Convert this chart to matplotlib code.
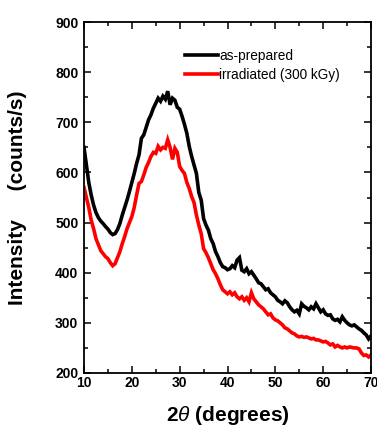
import matplotlib
matplotlib.use("Agg")
import matplotlib.pyplot as plt
from matplotlib.ticker import MultipleLocator
import numpy as np

two_theta = [10 + 0.5 * i for i in range(121)]

as_prepared = [
    650, 615, 580, 555, 535, 520, 510, 503, 498, 492,
    487, 480, 476, 478, 486, 498, 515, 530, 545, 562,
    580, 598, 618, 635, 668, 675, 690, 705, 715, 728,
    738, 748, 742, 752, 746, 762, 735, 748, 744, 730,
    726, 712, 696, 678, 652, 632, 615, 598, 560, 545,
    508, 495, 485, 468, 458, 442, 432, 420, 412, 410,
    406, 408, 414, 410, 425, 430, 405, 402, 408, 398,
    402, 395, 388, 380, 378, 372, 366, 368, 360, 356,
    352, 345, 342, 338, 344, 340, 332, 326, 322, 325,
    318, 338, 333, 330, 326, 332, 328, 338, 330, 322,
    326, 318, 315, 316, 308, 305, 307, 302, 312, 305,
    300, 296, 294, 296, 292, 288, 285, 280, 276, 268,
    274,
]

irradiated = [
    570, 550, 530, 505, 488, 468, 456, 444, 438, 432,
    428, 420, 414, 418, 430, 442, 458, 472, 488, 500,
    512, 530, 555, 578, 582, 595, 610, 620, 632, 640,
    638, 652, 645, 650, 648, 665, 650, 626, 648, 640,
    612, 604, 598, 580, 568, 552, 540, 515, 495, 478,
    448, 440, 430, 418, 406, 398, 388, 376, 366, 362,
    358, 362, 356, 360, 352, 348, 352, 345, 350, 342,
    360, 348, 342, 336, 332, 328, 322, 316, 318, 310,
    306, 304, 300, 296, 290, 288, 284, 280, 278, 274,
    272, 273, 271, 272, 270, 268, 269, 266, 266, 264,
    262, 263, 260, 256, 258, 252, 255, 252, 250, 252,
    250, 252, 251, 250, 250, 248, 240, 235, 236, 232,
    236,
]

series_labels = ["as-prepared", "irradiated (300 kGy)"]
series_colors = ["black", "#ff0000"]

plt.rcParams['font.family'] = ['Liberation Sans', 'DejaVu Sans']
plt.rcParams['mathtext.fontset'] = 'custom'
plt.rcParams['mathtext.it'] = 'Liberation Sans:italic'
plt.rcParams['mathtext.rm'] = 'Liberation Sans'

fig = plt.figure(figsize=(3.77, 4.28), dpi=100)
ax = fig.add_axes([84 / 377, 55 / 428, 287 / 377, 351 / 428])

for ys, lab, col in zip([as_prepared, irradiated], series_labels, series_colors):
    ax.plot(two_theta, ys, color=col, lw=2.6, label=lab, solid_joinstyle='miter')

ax.set_xlim(10, 70)
ax.set_ylim(200, 900)
ax.xaxis.set_major_locator(MultipleLocator(10))
ax.xaxis.set_minor_locator(MultipleLocator(5))
ax.yaxis.set_major_locator(MultipleLocator(100))
ax.yaxis.set_minor_locator(MultipleLocator(50))
ax.tick_params(which='both', direction='in', top=True, right=True, width=1.1)
ax.tick_params(which='major', length=5, labelsize=10)
ax.tick_params(axis='x', which='major', pad=2)
ax.tick_params(axis='y', which='major', pad=4)
ax.tick_params(which='minor', length=3)
for lbl in ax.get_xticklabels() + ax.get_yticklabels():
    lbl.set_fontweight('bold')
for sp in ax.spines.values():
    sp.set_linewidth(1.3)

ax.set_ylabel('Intensity     (counts/s)', fontsize=15, fontweight='bold', labelpad=20)
ax.set_xlabel(r'2$\theta$ (degrees)', fontsize=15, fontweight='bold', labelpad=10)

ax.legend(loc='upper left', bbox_to_anchor=(0.32, 0.95), frameon=False,
          fontsize=9.8, handlelength=2.4, handletextpad=0.1, labelspacing=0.35,
          borderpad=0.2)

fig.savefig('out.png', dpi=100)
